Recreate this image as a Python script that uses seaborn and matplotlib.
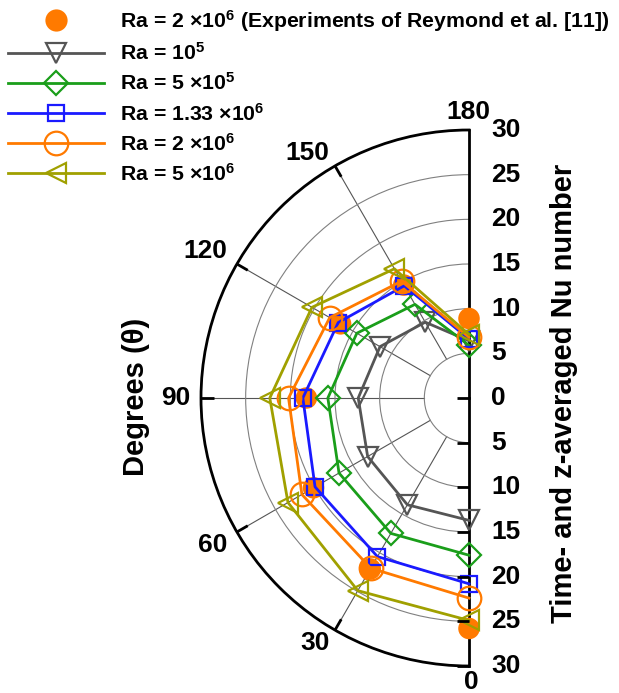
import numpy as np
import pandas as pd
import matplotlib
matplotlib.use("Agg")
import matplotlib.pyplot as plt
from matplotlib.transforms import offset_copy
from matplotlib.lines import Line2D
import seaborn as sns

# ---------------- data ----------------
theta_deg = [0, 30, 60, 90, 120, 150, 180]
nu_exp_2e6 = [25.8, 22.1, 20.1, 18.2, 16.6, 14.6, 8.9]
nu_1e5 = [13.7, 13.8, 13.1, 12.4, 11.5, 9.8, 6.4]
nu_5e5 = [17.6, 17.5, 16.8, 15.8, 14.5, 12.1, 5.9]
nu_133e6 = [20.8, 20.5, 19.9, 18.6, 16.9, 14.5, 6.6]
nu_2e6 = [22.4, 22.0, 21.6, 20.2, 18.0, 15.1, 6.8]
nu_5e6 = [24.9, 24.9, 23.4, 22.3, 20.3, 16.7, 7.1]

theta_ticks = [0, 30, 60, 90, 120, 150, 180]
r_ticks = [0, 5, 10, 15, 20, 25, 30]

label_exp = r"Ra = 2 $\times$10$^{6}$ (Experiments of Reymond et al. [11])"
series_labels = [r"Ra = 10$^{5}$", r"Ra = 5 $\times$10$^{5}$",
                 r"Ra = 1.33 $\times$10$^{6}$", r"Ra = 2 $\times$10$^{6}$",
                 r"Ra = 5 $\times$10$^{6}$"]
series_values = [nu_1e5, nu_5e5, nu_133e6, nu_2e6, nu_5e6]
series_colors = ["#555555", "#1a9e1a", "#1a1aff", "#ff7a00", "#a0a000"]
series_markers = ["v", "D", "s", "o", "<"]
series_msize = [14, 12, 12, 17, 14]
exp_color = "#ff7a00"

# ---------------- style ----------------
plt.rcParams["font.family"] = ["Liberation Sans", "DejaVu Sans"]
plt.rcParams["font.weight"] = "bold"
plt.rcParams["mathtext.fontset"] = "custom"
plt.rcParams["mathtext.rm"] = "Liberation Sans:bold"
plt.rcParams["mathtext.bf"] = "Liberation Sans:bold"
plt.rcParams["mathtext.it"] = "Liberation Sans:bold"
plt.rcParams["mathtext.default"] = "rm"

W, H = 619, 693
fig = plt.figure(figsize=(W / 100, H / 100), dpi=100)
cx, cy, R = 469, 398, 268
# square axes box; the half-disc wedge gets centred inside it
ax = fig.add_axes([(cx - R / 2 - R) / W, (H - (cy + R)) / H, 2 * R / W, 2 * R / H],
                  projection="polar")
ax.set_theta_zero_location("S")
ax.set_theta_direction(-1)
ax.set_thetamin(0)
ax.set_thetamax(180)
ax.set_rlim(0, 30)
rmax = 30

th = np.deg2rad(theta_deg)

# experiments (scatter)
exp_df = pd.DataFrame({"theta": th, "nu": nu_exp_2e6})
sns.scatterplot(data=exp_df, x="theta", y="nu", ax=ax, color=exp_color,
                s=15.5 ** 2, edgecolor="none", zorder=3, legend=False,
                clip_on=False)

for vals, c, m, ms in zip(series_values, series_colors, series_markers, series_msize):
    df = pd.DataFrame({"theta": th, "nu": vals})
    sns.lineplot(data=df, x="theta", y="nu", ax=ax, sort=False, color=c,
                 linewidth=2.0, marker=m, markersize=ms, markerfacecolor="none",
                 markeredgecolor=c, markeredgewidth=1.6, zorder=4, legend=False,
                 clip_on=False)

ax.set_xlabel("")
ax.set_ylabel("")

# grid
ax.set_xticks(np.deg2rad(theta_ticks))
ax.set_xticklabels([])
ax.set_yticks(r_ticks)
ax.set_yticklabels([])
ax.xaxis.grid(False)
ax.yaxis.grid(True, color="#808080", linewidth=0.8)
ax.tick_params(axis="x", length=0)
ax.tick_params(axis="y", length=0)
for t in theta_ticks[1:-1]:
    ax.plot([np.deg2rad(t)] * 2, [5, rmax], color="#555555", linewidth=0.8, zorder=1)
    # inward tick marks on the outer arc
    ax.plot([np.deg2rad(t)] * 2, [rmax - 1.4, rmax], color="black", linewidth=2.0,
            zorder=5, solid_capstyle="butt")
# tick marks on the lower half of the straight radial axis
for v in r_ticks:
    ax.plot([0], [v], marker=0, markersize=9, markeredgewidth=2.0, color="black",
            linestyle="none", clip_on=False, zorder=5)
for sp in ax.spines.values():
    sp.set_linewidth(2.0)
    sp.set_color("black")

# angle labels outside the arc
gap = 11
for t in theta_ticks:
    a = np.deg2rad(t)
    if t == 0:
        dx, dy, ha, va = 2, -4, "center", "top"
    elif t == 180:
        dx, dy, ha, va = -1, 6, "center", "bottom"
    else:
        c = np.cos(a)
        dy = 0 if abs(c) < 0.01 else -13 * np.sign(c)
        dx, ha, va = -np.sin(a) * gap, "right", "center"
    trt = offset_copy(ax.transData, fig=fig, x=dx, y=dy, units="dots")
    ax.text(a, rmax, str(t), transform=trt, ha=ha, va=va, fontsize=19,
            fontweight="bold", clip_on=False)

# radial labels on both halves of the straight axis
tr = offset_copy(ax.transData, fig=fig, x=22, y=0, units="dots")
for v in r_ticks:
    ax.text(0, v, str(v), transform=tr, ha="left", va="center", fontsize=19,
            fontweight="bold", clip_on=False)
    if v > 0:
        ax.text(np.pi, v, str(v), transform=tr, ha="left", va="center",
                fontsize=19, fontweight="bold", clip_on=False)

fig.text(136 / W, 1 - 397 / H, "Degrees (θ)", rotation=90, ha="center",
         va="center", fontsize=21, fontweight="bold")
fig.text(564 / W, 1 - 393 / H, "Time- and z-averaged Nu number", rotation=90,
         ha="center", va="center", fontsize=21, fontweight="bold")

# legend
handles = [Line2D([], [], linestyle="none", marker="o", markersize=16,
                  markerfacecolor=exp_color, markeredgecolor="none")]
for c, m, ms in zip(series_colors, series_markers, series_msize):
    handles.append(Line2D([], [], color=c, linewidth=2.0, marker=m, markersize=ms,
                          markerfacecolor="none", markeredgecolor=c,
                          markeredgewidth=1.6))
fig.legend(handles, [label_exp] + series_labels, loc="upper left",
           bbox_to_anchor=(8 / W, 1 - 8 / H), frameon=False, fontsize=15.3,
           handlelength=4.5, handletextpad=0.75, labelspacing=0.39,
           borderpad=0, borderaxespad=0)

fig.savefig("out.png", dpi=100)
